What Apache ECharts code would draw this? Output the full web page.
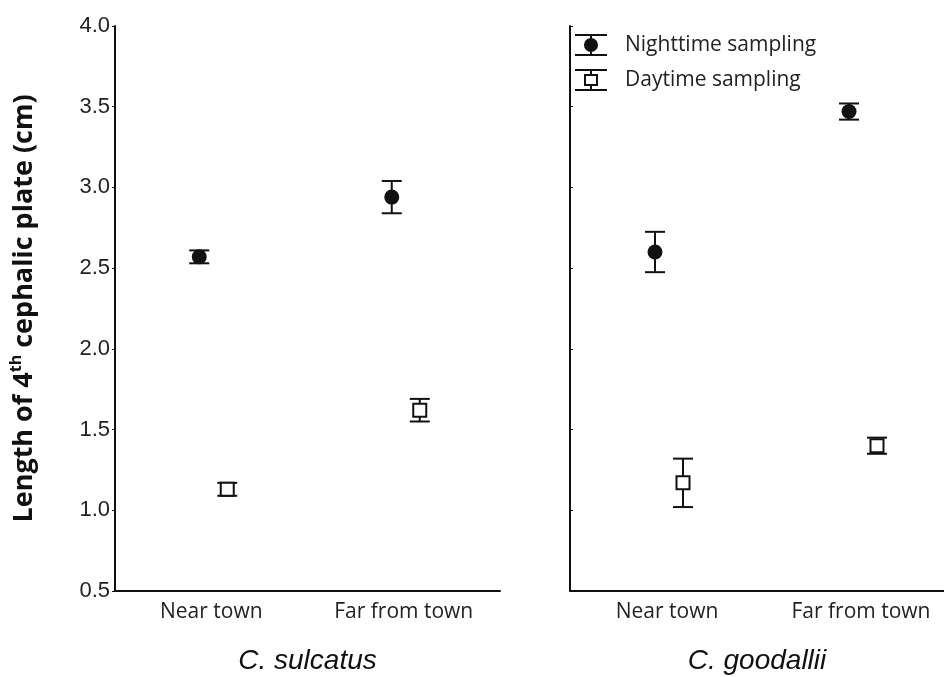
<!DOCTYPE html>
<html>
<head>
<meta charset="utf-8">
<title>Cephalic plate length</title>
<script src="https://cdn.jsdelivr.net/npm/echarts@6/dist/echarts.min.js"></script>
<style>
  html, body { margin: 0; padding: 0; background: #fff; }
  #chart { width: 944px; height: 677px; }
</style>
</head>
<body>
<div id="chart"></div>
<script>
// data (mean and half-length of error bar)
var categories = ['Near town', 'Far from town'];
var species = ['C. sulcatus', 'C. goodallii'];
var yTicks = [0.5, 1.0, 1.5, 2.0, 2.5, 3.0, 3.5, 4.0];

var sulcatusNight = [2.57, 2.94];
var sulcatusNightErr = [0.04, 0.10];
var sulcatusDay = [1.13, 1.62];
var sulcatusDayErr = [0.04, 0.07];

var goodalliiNight = [2.60, 3.47];
var goodalliiNightErr = [0.125, 0.05];
var goodalliiDay = [1.17, 1.40];
var goodalliiDayErr = [0.15, 0.05];

var INK = '#111';
var NIGHT_OFF = -12;
var DAY_OFF = 16;

function barData(mean, err) {
    return mean.map(function (m, i) {
        return [i, m, m - err[i], m + err[i]];
    });
}

function errorBars(name, mean, err, gridIdx, off) {
    return {
        type: 'custom',
        name: name,
        xAxisIndex: gridIdx,
        yAxisIndex: gridIdx,
        z: 2,
        silent: true,
        data: barData(mean, err),
        renderItem: function (params, api) {
            var lo = api.coord([api.value(0), api.value(2)]);
            var hi = api.coord([api.value(0), api.value(3)]);
            var x = lo[0] + off;
            var half = 10;
            var style = { stroke: INK, lineWidth: 2 };
            return {
                type: 'group',
                children: [
                    { type: 'line', shape: { x1: x, y1: lo[1], x2: x, y2: hi[1] }, style: style },
                    { type: 'line', shape: { x1: x - half, y1: lo[1], x2: x + half, y2: lo[1] }, style: style },
                    { type: 'line', shape: { x1: x - half, y1: hi[1], x2: x + half, y2: hi[1] }, style: style }
                ]
            };
        }
    };
}

function points(name, mean, gridIdx, off, night) {
    return {
        type: 'scatter',
        name: name,
        xAxisIndex: gridIdx,
        yAxisIndex: gridIdx,
        z: 3,
        symbol: night ? 'circle' : 'rect',
        symbolSize: night ? 15 : 13,
        symbolOffset: [off, 0],
        itemStyle: night
            ? { color: INK, opacity: 1 }
            : { color: '#fff', borderColor: INK, borderWidth: 2, opacity: 1 },
        data: mean.map(function (m, i) { return [i, m]; })
    };
}

function xAxis(gridIdx) {
    return {
        type: 'category',
        gridIndex: gridIdx,
        data: categories,
        name: species[gridIdx],
        nameLocation: 'middle',
        nameGap: 56,
        nameTextStyle: {
            fontFamily: 'Liberation Sans', fontStyle: 'italic', fontSize: 28, color: INK,
            // right axis runs past the page edge, pull its title back to the visible middle
            padding: gridIdx === 1 ? [0, 14, 0, 0] : 0
        },
        axisLine: { lineStyle: { color: INK, width: 2 } },
        axisTick: { alignWithLabel: true, inside: true, length: 4, lineStyle: { color: INK } },
        axisLabel: { margin: 11, fontFamily: 'Open Sans', fontSize: 21, color: '#222' },
        splitLine: { show: false }
    };
}

function yAxis(gridIdx) {
    var left = gridIdx === 0;
    return {
        type: 'value',
        gridIndex: gridIdx,
        min: yTicks[0],
        max: yTicks[yTicks.length - 1],
        interval: 0.5,
        name: left ? '{a|Length of 4}{sup|th}{a| cephalic plate (cm)}' : '',
        nameLocation: 'middle',
        nameGap: 75,
        nameRotate: 90,
        nameTextStyle: {
            rich: {
                a: { fontFamily: 'Open Sans', fontWeight: 'bold', fontSize: 27, color: INK, lineHeight: 32 },
                sup: { fontFamily: 'Open Sans', fontWeight: 'bold', fontSize: 16, color: INK, lineHeight: 32, verticalAlign: 'top' }
            }
        },
        axisLine: { show: true, lineStyle: { color: INK, width: 2 } },
        axisTick: { show: true, inside: !left, length: 3, lineStyle: { color: INK } },
        axisLabel: {
            show: left,
            margin: 5,
            fontFamily: 'Liberation Sans',
            fontSize: 22,
            color: '#222',
            formatter: function (v) { return v.toFixed(1); }
        },
        splitLine: { show: false }
    };
}

var chart = echarts.init(document.getElementById('chart'));

chart.setOption({
    backgroundColor: '#fff',
    animation: false,
    grid: [
        { left: 115, top: 26, width: 385, bottom: 86, outerBoundsMode: 'none' },
        { left: 570, top: 26, width: 388, bottom: 86, outerBoundsMode: 'none' }
    ],
    legend: {
        left: 575,
        top: 34,
        padding: 0,
        orient: 'vertical',
        itemWidth: 32,
        itemHeight: 22,
        itemGap: 13,
        textStyle: { fontFamily: 'Open Sans', fontSize: 21, color: '#222', padding: [0, 0, 0, 13] },
        data: [
            {
                name: 'Nighttime sampling',
                icon: 'path://M0,0H32V2H0Z M15,2H17V20H15Z M0,20H32V22H0Z M16,4A7,7 0 1,1 15.99,4Z',
                itemStyle: { color: INK, borderWidth: 0 }
            },
            {
                name: 'Daytime sampling',
                icon: 'path://M0,0H32V2H0Z M15,2H17V5H15Z M15,17H17V20H15Z M0,20H32V22H0Z M9,5H23V17H9Z M11,7V15H21V7Z',
                itemStyle: { color: INK, borderWidth: 0 }
            }
        ]
    },
    xAxis: [xAxis(0), xAxis(1)],
    yAxis: [yAxis(0), yAxis(1)],
    series: [
        errorBars('Nighttime sampling', sulcatusNight, sulcatusNightErr, 0, NIGHT_OFF),
        errorBars('Daytime sampling', sulcatusDay, sulcatusDayErr, 0, DAY_OFF),
        errorBars('Nighttime sampling', goodalliiNight, goodalliiNightErr, 1, NIGHT_OFF),
        errorBars('Daytime sampling', goodalliiDay, goodalliiDayErr, 1, DAY_OFF),
        points('Nighttime sampling', sulcatusNight, 0, NIGHT_OFF, true),
        points('Daytime sampling', sulcatusDay, 0, DAY_OFF, false),
        points('Nighttime sampling', goodalliiNight, 1, NIGHT_OFF, true),
        points('Daytime sampling', goodalliiDay, 1, DAY_OFF, false)
    ]
});
</script>
</body>
</html>
